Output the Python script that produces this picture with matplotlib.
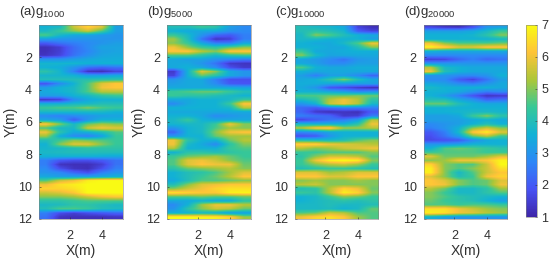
import matplotlib
matplotlib.use("Agg")
import matplotlib.pyplot as plt
from matplotlib.colors import LinearSegmentedColormap

plt.rcParams['font.family'] = ['Liberation Sans', 'DejaVu Sans']
plt.rcParams['mathtext.default'] = 'regular'

## each row is 0.25 m of depth, each column about 0.85 m across
g1000 = [
    [3.6,3.8,5.6,6.4,5.8,3.2], [3.8,4.4,5.0,5.6,4.6,3.2], [4.6,3.8,3.4,3.3,3.1,3.0], [3.2,3.0,3.0,3.0,3.0,3.0],
    [2.0,2.4,2.6,2.8,3.0,3.2], [1.2,1.5,2.3,2.8,3.3,3.3], [1.2,1.5,2.3,2.7,3.2,3.3], [1.3,1.6,2.4,2.9,3.3,3.4],
    [3.0,3.0,3.2,3.4,3.5,3.5], [3.7,3.7,3.7,3.6,3.6,3.6], [3.6,3.5,3.0,2.4,2.2,2.4], [4.2,3.7,2.6,1.3,1.2,1.6],
    [3.7,3.7,3.6,3.2,3.2,3.4], [4.0,4.0,4.0,4.1,4.2,4.2], [1.9,2.8,3.6,4.6,5.8,6.2], [3.2,3.6,3.8,4.6,6.0,6.2],
    [3.4,3.6,3.8,4.6,5.4,5.4], [3.2,3.2,3.6,3.8,4.2,4.4], [1.3,1.5,2.8,3.4,3.6,3.6], [3.6,3.6,3.8,3.8,4.0,4.0],
    [4.4,4.6,4.6,5.0,4.6,4.4], [3.8,3.8,3.8,3.8,3.8,3.6], [2.8,2.6,2.8,3.0,3.2,3.3], [3.4,3.2,2.0,3.0,3.6,3.6],
    [6.2,5.0,3.8,4.8,5.2,5.0], [4.6,3.8,3.8,5.6,6.0,5.8], [6.0,4.2,3.4,3.6,4.0,4.6], [5.2,3.5,2.8,2.6,3.2,4.4],
    [4.0,4.4,5.0,4.8,4.6,4.4], [3.6,5.0,5.8,5.8,5.0,4.4], [3.7,3.8,4.0,4.2,4.2,4.2], [3.8,3.9,4.0,4.0,4.0,4.0],
    [3.6,3.6,3.6,3.6,3.5,3.4], [2.6,2.0,1.8,1.8,2.0,2.4], [2.6,1.3,1.2,1.2,1.5,2.4], [2.8,1.8,1.3,1.2,1.8,2.6],
    [3.0,2.8,2.2,1.8,2.6,3.0], [3.4,3.2,3.2,3.2,3.4,3.6], [4.6,5.6,6.0,6.8,7.0,7.0], [6.0,6.6,6.8,7.0,7.0,7.0],
    [6.4,6.4,6.6,7.0,7.0,7.0], [5.6,5.8,6.2,7.0,7.0,7.0], [5.0,5.0,5.2,5.6,6.0,6.2], [4.2,4.2,4.4,4.6,4.6,4.6],
    [3.8,3.9,4.2,4.2,4.0,3.8], [4.0,4.6,4.6,4.4,4.0,3.9], [2.6,1.8,1.5,1.8,2.0,2.2], [2.4,1.3,1.2,1.2,1.2,1.3],
]
g5000 = [
    [4.0,4.0,4.4,4.2,3.2,2.8], [3.6,3.4,3.4,3.4,3.0,2.8], [4.4,3.8,3.0,2.2,2.0,2.6], [5.2,4.0,2.4,1.3,1.5,2.6],
    [5.0,4.4,3.4,2.6,2.6,3.4], [6.0,5.0,4.4,4.2,4.6,5.0], [6.2,6.2,5.4,5.0,6.2,6.2], [4.6,4.6,4.2,3.8,4.2,4.4],
    [3.4,3.2,3.3,3.0,2.8,2.6], [3.4,3.4,3.0,2.4,1.4,1.3], [3.4,3.6,3.4,2.8,1.8,1.4], [1.4,3.6,5.8,5.0,3.4,3.0],
    [1.6,3.6,4.8,4.2,3.4,3.0], [3.0,3.4,3.4,2.6,1.8,1.8], [3.2,3.4,3.4,2.8,2.0,1.9], [3.4,3.4,3.4,3.4,3.4,3.3],
    [4.4,4.6,4.8,4.8,4.4,4.0], [4.4,4.2,4.2,4.0,3.8,3.6], [3.4,3.4,3.6,3.6,3.8,4.4], [2.8,3.4,3.6,3.6,4.4,6.2],
    [3.6,3.6,3.6,3.6,3.8,5.4], [3.4,3.4,3.4,3.4,3.4,3.4], [3.6,3.6,3.4,2.8,3.0,3.2], [3.8,4.4,3.6,3.4,3.4,3.4],
    [3.7,3.8,3.8,4.4,6.0,5.0], [3.0,3.6,3.8,4.6,5.2,5.0], [2.2,3.6,3.8,5.0,6.0,6.2], [3.0,3.6,3.6,4.8,5.2,5.2],
    [6.0,4.2,3.6,3.6,4.8,5.4], [6.0,3.8,3.4,2.8,4.2,5.0], [5.4,3.6,3.6,3.6,4.4,4.6], [3.6,4.2,4.2,4.0,4.2,4.4],
    [4.4,4.8,5.0,5.2,4.8,4.4], [4.6,5.8,6.0,5.6,5.0,4.6], [4.6,5.8,6.2,6.0,6.0,4.8], [4.2,4.8,5.0,5.2,5.4,5.0],
    [3.6,4.0,4.2,4.6,5.2,5.8], [3.6,4.0,4.4,4.8,5.4,6.2], [3.4,4.0,4.6,4.6,4.8,5.0], [4.0,5.0,5.8,6.0,6.2,6.2],
    [5.0,5.6,6.0,6.4,6.6,6.6], [6.6,6.4,6.2,6.2,6.8,6.9], [4.6,4.6,4.8,4.6,4.6,4.8], [3.4,3.4,3.6,3.4,3.4,4.2],
    [2.8,3.6,5.2,6.0,6.0,5.4], [3.0,4.2,5.0,5.6,5.4,4.8], [3.6,3.6,3.8,3.6,3.2,3.2], [7.0,7.0,6.9,6.8,6.4,5.2],
]
g10000 = [
    [4.0,3.8,3.7,3.4,1.6,1.2], [4.0,4.2,4.0,3.7,2.0,1.6], [3.8,5.0,4.6,4.0,3.6,3.4], [3.8,3.8,3.6,3.6,3.6,3.2],
    [3.6,3.4,3.4,3.8,4.6,6.0], [3.6,3.6,3.4,3.4,4.0,5.0], [4.4,3.4,3.4,3.5,3.6,3.5], [5.0,3.8,3.3,3.4,3.4,3.4],
    [3.3,3.1,2.8,2.4,3.0,3.2], [3.4,3.2,2.8,2.8,3.2,3.2], [4.6,3.6,3.4,3.4,3.5,3.5], [3.6,3.4,3.4,3.4,3.4,3.4],
    [3.2,2.6,3.2,3.2,2.8,2.2], [3.4,3.6,4.2,5.0,4.0,3.4], [3.5,3.5,3.4,3.2,3.2,3.2], [3.4,3.0,1.9,1.7,1.4,1.2],
    [3.6,3.6,3.4,3.2,2.8,3.0], [4.6,4.6,4.8,4.8,5.0,4.8], [3.8,4.2,5.4,6.0,5.4,4.2], [3.0,3.6,5.6,6.0,5.4,3.8],
    [2.2,2.0,2.4,2.6,2.6,2.6], [2.2,1.4,1.2,1.3,1.2,2.0], [2.6,2.4,2.2,1.4,1.5,2.6], [1.6,2.0,2.4,2.6,3.2,5.4],
    [3.8,3.6,3.6,3.6,4.2,6.0], [5.4,6.2,6.4,5.2,5.2,5.4], [2.8,3.0,3.4,3.6,3.6,3.6], [1.8,2.0,3.0,3.6,3.6,3.6],
    [4.0,3.9,3.8,4.0,4.6,5.0], [6.4,6.4,6.0,5.8,5.6,5.4], [5.4,5.0,5.2,5.6,5.8,6.0], [4.4,4.4,4.6,4.6,4.6,5.0],
    [4.2,5.0,5.6,5.6,5.4,4.6], [4.4,6.0,6.8,7.0,6.8,5.0], [4.4,5.0,5.4,5.6,5.2,4.4], [4.0,4.2,4.4,4.4,4.2,4.0],
    [5.8,5.8,5.2,5.4,5.8,5.8], [6.2,6.2,5.8,5.8,6.2,6.2], [5.0,5.2,5.0,5.0,5.2,5.0], [5.4,5.6,5.0,5.0,5.0,5.0],
    [4.0,4.2,5.4,6.4,6.0,4.8], [4.4,4.2,5.4,6.8,6.4,5.0], [3.6,3.8,4.4,5.0,4.8,4.4], [3.6,3.8,4.0,4.2,4.0,4.2],
    [3.8,3.8,4.0,3.8,3.8,4.0], [3.8,3.8,3.9,3.6,3.8,4.8], [4.6,4.8,5.6,5.4,4.6,4.6], [6.0,6.4,6.6,6.2,5.2,4.6],
]
g20000 = [
    [1.6,1.3,1.2,1.8,3.0,3.2], [3.2,3.2,3.2,3.4,3.8,4.4], [3.6,3.6,3.6,3.7,4.2,5.0], [3.6,3.6,3.6,3.6,3.6,3.8],
    [6.0,5.0,4.6,4.6,4.6,4.8], [6.9,6.4,5.8,5.8,6.2,6.2], [3.6,3.4,3.4,3.4,3.4,3.4], [2.8,2.8,2.8,2.8,2.8,2.8],
    [1.5,1.6,2.2,2.6,2.2,2.4], [3.0,3.0,3.0,3.0,3.0,3.0], [5.4,3.8,3.6,3.4,3.4,3.4], [6.0,4.0,3.6,3.4,3.4,3.4],
    [3.0,3.0,2.8,2.8,3.0,3.6], [2.8,2.8,2.0,1.6,2.4,3.2], [3.4,3.2,2.8,2.6,3.0,3.4], [3.8,3.6,3.6,3.6,3.6,3.4],
    [3.6,3.6,3.4,3.0,2.6,2.8], [3.6,3.2,2.6,1.9,1.3,1.4], [4.0,4.0,3.4,3.0,2.2,2.4], [4.8,4.8,4.0,3.6,3.4,3.4],
    [3.6,3.6,3.6,3.6,3.6,3.6], [3.6,3.6,3.7,3.8,3.8,3.7], [3.2,3.2,3.4,4.4,5.0,4.2], [3.2,3.2,3.2,3.4,3.6,3.4],
    [2.8,3.0,3.2,3.6,4.0,3.6], [2.6,3.0,3.6,5.0,5.6,5.0], [2.0,2.6,3.8,6.2,6.8,5.8], [1.8,2.4,3.2,4.8,5.4,4.4],
    [1.7,1.8,2.0,2.8,3.4,3.6], [3.0,3.0,3.2,3.6,3.6,3.6], [3.6,4.6,4.8,4.6,4.4,4.2], [4.4,4.6,4.6,4.6,4.4,4.4],
    [5.8,4.8,4.8,4.8,5.2,5.8], [5.0,5.2,6.0,6.0,6.2,6.9], [6.4,5.0,4.6,4.6,5.6,7.0], [6.8,5.0,4.6,5.0,5.6,6.6],
    [6.8,5.0,3.8,4.6,5.6,6.2], [5.8,5.0,4.0,4.4,6.0,6.4], [6.2,5.8,5.0,4.6,4.8,5.8], [6.2,6.0,5.0,4.6,4.8,6.0],
    [5.4,4.8,3.8,3.8,4.2,5.2], [5.0,4.4,3.8,3.8,4.2,4.6], [5.0,4.6,4.2,4.0,3.8,3.6], [4.8,4.4,4.2,4.0,3.6,3.2],
    [4.6,4.6,4.4,4.6,4.6,4.4], [6.6,6.6,6.0,5.6,5.2,5.0], [6.8,6.6,6.0,5.8,5.4,5.2], [3.6,3.2,3.0,3.0,3.0,3.0],
]
panels = [g1000, g5000, g10000, g20000]
letters = ["(a)", "(b)", "(c)", "(d)"]
subs = ["1000", "5000", "10000", "20000"]
xticks = [2, 4]
yticks = [2, 4, 6, 8, 10, 12]
cticks = [1, 2, 3, 4, 5, 6, 7]

parula = LinearSegmentedColormap.from_list("parula", [
    (0.2422, 0.1504, 0.6603), (0.2810, 0.3228, 0.9579), (0.1786, 0.5289, 0.9682),
    (0.0689, 0.6948, 0.8394), (0.2161, 0.7843, 0.5923), (0.6720, 0.7793, 0.2227),
    (0.9970, 0.7659, 0.2199), (0.9769, 0.9839, 0.0805)])

W, H = 550.0, 262.0
fig = plt.figure(figsize=(5.5, 2.62), dpi=100)

def pixaxes(x0, x1, y0, y1):
    return fig.add_axes([x0 / W, 1 - y1 / H, (x1 - x0) / W, (y1 - y0) / H])

lefts = [39, 167, 294.7, 423.7]
tcolor = "#303030"
for i in range(4):
    ax = pixaxes(lefts[i], lefts[i] + 83.7, 25, 219)
    im = ax.imshow(panels[i], cmap=parula, vmin=1, vmax=7, aspect="auto",
                   extent=[0.125, 5.25, 12, 0], interpolation="bilinear")
    ax.set_xticks(xticks)
    ax.set_yticks(yticks)
    ax.tick_params(direction="in", length=1.5, width=0.4, color=tcolor, labelcolor=tcolor,
                   labelsize=9, pad=5)
    ax.tick_params(axis="x", pad=8)
    for s in ax.spines.values():
        s.set_linewidth(0.4)
        s.set_color("#808080")
    ax.set_xlabel("X(m)", fontsize=10, color=tcolor, labelpad=1.5)
    ax.set_ylabel("Y(m)", fontsize=10, color=tcolor, labelpad=0)
    fig.text((lefts[i] - 20) / W, 1 - 15 / H, letters[i] + "g$_{" + subs[i] + "}$",
             fontsize=9.5, color=tcolor, va="baseline")

cax = pixaxes(525.7, 537.3, 24.7, 217)
cb = fig.colorbar(im, cax=cax, ticks=cticks)
cb.ax.tick_params(direction="in", length=1.5, width=0.4, color=tcolor, labelcolor=tcolor,
                  labelsize=9, pad=3)
cb.outline.set_linewidth(0.4)
cb.outline.set_edgecolor("#808080")

fig.savefig("out.png", dpi=100)
